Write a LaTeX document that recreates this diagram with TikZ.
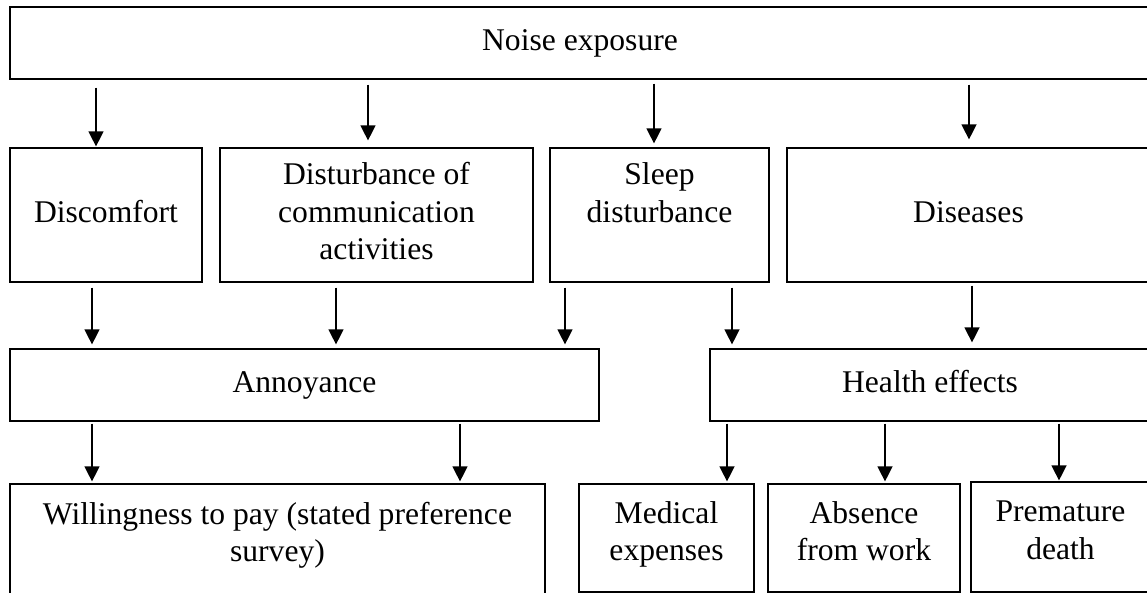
\documentclass[tikz,border=0pt]{standalone}
\usepackage{fontspec}
\setmainfont{Liberation Serif}
\usetikzlibrary{arrows.meta,calc}
% fixed-size cell: width, height, gap above the first line, text
\newcommand\celltext[4]{\parbox[c][#2][t]{#1}{\centering\vspace*{#3}\strut#4\strut\par}}
\begin{document}
\begin{tikzpicture}[x=1pt,y=-1pt,
  box/.style={draw, line width=1.2pt, align=center, inner sep=0pt,
    font=\fontsize{31.6}{37.5}\selectfont},
  cell/.style={draw, line width=1.2pt, inner sep=0pt,
    font=\fontsize{31.6}{37.5}\selectfont},
  arr/.style={line width=1.3pt, -{Triangle[width=15pt,length=15pt]}}]
\useasboundingbox (0,0) rectangle (1147,593);
\clip (0,0) rectangle (1147,593);

% top level
\node[box, minimum width=1140pt, minimum height=72pt] (noise) at (580,43) {\strut Noise exposure};

% first level effects
\node[box, minimum width=192pt, minimum height=134pt] (disc) at (106,215) {\strut Discomfort};
\node[box, minimum width=313pt, minimum height=134pt] (dist) at (376.5,215) {\strut Disturbance of\\communication\\activities\strut};
\node[box, minimum width=219pt, minimum height=134pt] (sleep) at (659.5,215) {\strut Sleep\\disturbance\\\strut};
\node[box, minimum width=363pt, minimum height=134pt] (dis) at (968.5,215) {\strut Diseases};

% second level
\node[box, minimum width=589pt, minimum height=72pt] (ann) at (304.5,385) {\strut Annoyance};
\node[box, minimum width=440pt, minimum height=72pt] (health) at (930,385) {\strut Health effects};

% valuation
\node[cell] (will) at (277.5,549)
  {\celltext{535pt}{130pt}{14pt}{Willingness to pay (stated preference\\survey)}};
\node[cell] (med) at (666.5,538) {\celltext{175pt}{108pt}{13pt}{Medical\\expenses}};
\node[cell] (abs) at (864,538) {\celltext{192pt}{108pt}{13pt}{Absence\\from work}};
\node[cell] (prem) at (1060.5,537) {\celltext{179pt}{110pt}{13.5pt}{Premature\\death}};

% noise exposure -> first level
\draw[arr] ($(noise.south -| disc.north)+(-10,8)$) -- ($(disc.north)+(-10,-1)$);
\draw[arr] ($(noise.south -| dist.north)+(-8.5,5)$) -- ($(dist.north)+(-8.5,-7)$);
\draw[arr] ($(noise.south -| sleep.north)+(-5.5,4)$) -- ($(sleep.north)+(-5.5,-4)$);
\draw[arr] ($(noise.south -| dis.north)+(0.5,5)$) -- ($(dis.north)+(0.5,-8)$);

% first level -> second level
\draw[arr] ($(disc.south)+(-14,5)$) -- ($(ann.north -| disc.south)+(-14,-4)$);
\draw[arr] ($(dist.south)+(-40.5,5)$) -- ($(ann.north -| dist.south)+(-40.5,-4)$);
\draw[arr] ($(sleep.south)+(-94.5,5)$) -- ($(ann.north -| sleep.south)+(-94.5,-4)$);
\draw[arr] ($(sleep.south)+(72.5,5)$) -- ($(health.north -| sleep.south)+(72.5,-4)$);
\draw[arr] ($(dis.south)+(3.5,3)$) -- ($(health.north -| dis.south)+(3.5,-6)$);

% second level -> valuation
\draw[arr] ($(ann.south)+(-212.5,2)$) -- ($(will.north -| ann.south)+(-212.5,-2)$);
\draw[arr] ($(ann.south)+(155.5,2)$) -- ($(will.north -| ann.south)+(155.5,-2)$);
\draw[arr] ($(health.south)+(-203,2)$) -- ($(med.north -| health.south)+(-203,-2)$);
\draw[arr] ($(health.south)+(-45,2)$) -- ($(abs.north -| health.south)+(-45,-2)$);
\draw[arr] ($(health.south)+(129,2)$) -- ($(prem.north -| health.south)+(129,-1)$);
\end{tikzpicture}
\end{document}
